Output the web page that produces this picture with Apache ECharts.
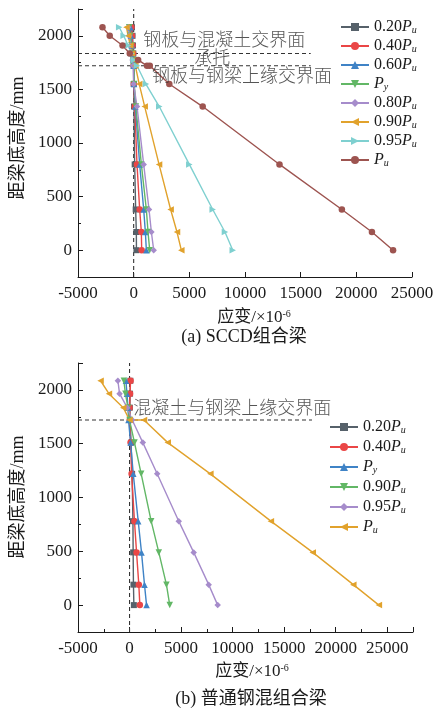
<!DOCTYPE html>
<html>
<head>
<meta charset="utf-8">
<script src="https://cdn.jsdelivr.net/npm/echarts@6/dist/echarts.min.js"></script>
<style>
html, body { margin: 0; padding: 0; background: #ffffff; }
#chart { width: 441px; height: 708px; }
</style>
</head>
<body>
<div id="chart"></div>
<script>
// ---- (a) SCCD composite beam: strain (×10^-6) at each gauge height (mm) ----
const topHeights   = [0, 170, 380, 800, 1340, 1550, 1720, 1775, 1835, 1910, 2000, 2080];
const topHeightsPu = [0, 170, 380, 800, 1340, 1550, 1720, 1720, 1775, 1835, 1910, 2000, 2080];
const topStrain020 = [250, 240, 180, 90, 30, 0, 0, -10, -30, -60, -100, -150];
const topStrain040 = [720, 690, 540, 300, 100, 20, 0, -20, -50, -100, -150, -200];
const topStrain060 = [1140, 1050, 900, 540, 150, 30, 0, -30, -80, -150, -250, -300];
const topStrainPy  = [1440, 1290, 1140, 690, 200, 50, 0, -50, -100, -200, -300, -400];
const topStrain080 = [1800, 1590, 1380, 900, 300, 0, -50, -100, -200, -300, -400, -500];
const topStrain090 = [4280, 3890, 3320, 2280, 990, 500, 150, 0, -150, -300, -500, -650];
const topStrain095 = [8900, 8200, 7100, 5000, 2300, 1100, 300, 0, -200, -500, -900, -1300];
const topStrainPu  = [23300, 21400, 18700, 13100, 6200, 3200, 1450, 1200, 400, -350, -1000, -2150, -2800];
const topInterfaces = [1835, 1720];   // 钢板与混凝土交界面, 钢板与钢梁上缘交界面
const topDashEnd = 15900;

// ---- (b) ordinary steel-concrete composite beam ----
const botHeights   = [0, 190, 490, 780, 1220, 1510, 1720, 1835, 1965, 2085];
const botHeightsPu = [0, 190, 490, 780, 1220, 1510, 1720, 1720, 1835, 1965, 2085];
const botStrain020 = [420, 380, 350, 330, 250, 150, 50, 30, 50, 80];
const botStrain040 = [1000, 900, 680, 480, 200, 100, 20, 0, 50, 100];
const botStrainPy  = [1650, 1450, 1160, 840, 360, 100, -100, -150, -250, -350];
const botStrain090 = [3900, 3580, 2840, 2100, 1130, 480, 0, -150, -400, -550];
const botStrain095 = [8550, 7680, 6225, 4775, 2680, 1290, 260, -220, -970, -1130];
const botStrainPu  = [24190, 21710, 17775, 13710, 7840, 3710, 1400, 0, -610, -2000, -2810];
const botInterface = 1720;            // 混凝土与钢梁上缘交界面
const botDashEnd = 17700;

const yRange = [-250, 2250];
const topXRange = [-5000, 25000];
const botXRange = [-5000, 27500];

const FONT = '"Liberation Serif", "Noto Sans CJK SC", serif';
const INK = '#1a1a1a';

const pairs = (xs, hs) => xs.map((v, i) => [v, hs[i]]);

// legend labels with italic P and subscript
const legendText = {
  '0.20Pu': '0.20{p|P}{s|u}', '0.40Pu': '0.40{p|P}{s|u}', '0.60Pu': '0.60{p|P}{s|u}',
  'Py': '{p|P}{s|y}', '0.80Pu': '0.80{p|P}{s|u}', '0.90Pu': '0.90{p|P}{s|u}',
  '0.95Pu': '0.95{p|P}{s|u}', 'Pu': '{p|P}{s|u}',
  '0.20Pu(b)': '0.20{p|P}{s|u}', '0.40Pu(b)': '0.40{p|P}{s|u}', 'Py(b)': '{p|P}{s|y}',
  '0.90Pu(b)': '0.90{p|P}{s|u}', '0.95Pu(b)': '0.95{p|P}{s|u}', 'Pu(b)': '{p|P}{s|u}'
};

const C = {
  gray: '#56616a', red: '#ea4646', blue: '#3f83c6', green: '#62b766',
  purple: '#a68ccb', orange: '#e1a22c', cyan: '#7fd0d0', brown: '#9d5450'
};

function dataSeries(name, gi, color, symbol, rotate, data) {
  return {
    name: name, type: 'line', xAxisIndex: gi, yAxisIndex: gi,
    data: data, color: color,
    symbol: symbol, symbolRotate: rotate, symbolSize: symbol === 'rect' ? 6 : 6.5,
    lineStyle: { width: 1.4, color: color },
    itemStyle: { color: color },
    z: 3
  };
}

function dashLine(gi, data) {
  return {
    type: 'line', xAxisIndex: gi, yAxisIndex: gi, data: data,
    showSymbol: false, symbol: 'none', silent: true, z: 2,
    lineStyle: { color: '#333', width: 1.1, type: [4, 3] }
  };
}

function note(gi, x, h, text, align) {
  return {
    type: 'scatter', xAxisIndex: gi, yAxisIndex: gi, silent: true, z: 4,
    data: [[x, h]], symbolSize: 1, itemStyle: { color: 'rgba(0,0,0,0)' },
    label: {
      show: true, position: [0, 0], align: align, verticalAlign: 'middle',
      formatter: text, color: '#2a2a2a', fontSize: 18, fontWeight: 300, fontFamily: FONT
    }
  };
}

function xAxisCfg(gi, range, minor) {
  return {
    type: 'value', gridIndex: gi, min: range[0], max: range[1], interval: 5000,
    axisLine: { show: true, onZero: false, lineStyle: { color: INK, width: 1 } },
    axisTick: { show: true, inside: true, length: 5, lineStyle: { color: INK } },
    minorTick: { show: minor, splitNumber: 2, length: 3, lineStyle: { color: INK } },
    splitLine: { show: false },
    axisLabel: {
      color: INK, fontSize: 17, fontFamily: FONT, margin: 8,
      formatter: v => (v % 5000 === 0 ? String(v) : '')
    }
  };
}

function yAxisCfg(gi) {
  return {
    type: 'value', gridIndex: gi, min: yRange[0], max: yRange[1], splitNumber: 5,
    axisLine: { show: true, onZero: false, lineStyle: { color: INK, width: 1 } },
    axisTick: { show: true, inside: true, length: 5, lineStyle: { color: INK } },
    minorTick: { show: true, splitNumber: 2, length: 3, lineStyle: { color: INK } },
    splitLine: { show: false },
    axisLabel: {
      color: INK, fontSize: 17, fontFamily: FONT, margin: 6,
      formatter: v => (v % 500 === 0 ? String(v) : '')
    }
  };
}

const legendRich = {
  p: { fontStyle: 'italic', fontSize: 16, fontFamily: FONT, color: INK, lineHeight: 16 },
  s: { fontStyle: 'italic', fontSize: 10, fontFamily: FONT, color: INK, lineHeight: 10, verticalAlign: 'bottom' }
};

function legendCfg(names, left, top, gap) {
  return {
    data: names, orient: 'vertical', left: left, top: top, padding: 0,
    itemWidth: 28, itemHeight: 10, itemGap: gap, selectedMode: false,
    formatter: n => legendText[n],
    textStyle: { fontSize: 16, fontFamily: FONT, color: INK, lineHeight: 16, rich: legendRich }
  };
}

const topNames = ['0.20Pu', '0.40Pu', '0.60Pu', 'Py', '0.80Pu', '0.90Pu', '0.95Pu', 'Pu'];
const botNames = ['0.20Pu(b)', '0.40Pu(b)', 'Py(b)', '0.90Pu(b)', '0.95Pu(b)', 'Pu(b)'];

const axisNameRich = { s: { fontSize: 10, fontFamily: FONT, color: INK, verticalAlign: 'top', lineHeight: 10 } };

const option = {
  animation: false,
  backgroundColor: '#ffffff',
  grid: [
    { left: 78, right: 29, top: 9, height: 268 },
    { left: 78, right: 28, top: 363, height: 269 }
  ],
  xAxis: [xAxisCfg(0, topXRange, false), xAxisCfg(1, botXRange, true)],
  yAxis: [yAxisCfg(0), yAxisCfg(1)],
  legend: [legendCfg(topNames, 340, 19, 3), legendCfg(botNames, 329, 419, 4)],
  graphic: [
    { type: 'text', x: 18, y: 138, rotation: Math.PI / 2,
      style: { text: '距梁底高度/mm', font: '18px ' + FONT, fill: INK, align: 'center', verticalAlign: 'middle' } },
    { type: 'text', x: 18, y: 497, rotation: Math.PI / 2,
      style: { text: '距梁底高度/mm', font: '18px ' + FONT, fill: INK, align: 'center', verticalAlign: 'middle' } },
    { type: 'text', x: 254, y: 318,
      style: { text: '应变/×10{s|-6}', rich: axisNameRich, font: '17px ' + FONT, fill: INK, align: 'center', verticalAlign: 'middle' } },
    { type: 'text', x: 244, y: 337,
      style: { text: '(a) SCCD组合梁', font: '18px ' + FONT, fill: INK, align: 'center', verticalAlign: 'middle' } },
    { type: 'text', x: 252, y: 672,
      style: { text: '应变/×10{s|-6}', rich: axisNameRich, font: '17px ' + FONT, fill: INK, align: 'center', verticalAlign: 'middle' } },
    { type: 'text', x: 251, y: 699,
      style: { text: '(b) 普通钢混组合梁', font: '18px ' + FONT, fill: INK, align: 'center', verticalAlign: 'middle' } }
  ],
  series: [
    // reference lines, chart (a)
    dashLine(0, [[0, yRange[0]], [0, yRange[1]]]),
    dashLine(0, [[topXRange[0], topInterfaces[0]], [topDashEnd, topInterfaces[0]]]),
    dashLine(0, [[topXRange[0], topInterfaces[1]], [topDashEnd, topInterfaces[1]]]),
    note(0, 900, 1940, '钢板与混凝土交界面', 'left'),
    note(0, 7100, 1773, '承托', 'center'),
    note(0, 1700, 1606, '钢板与钢梁上缘交界面', 'left'),
    // strain profiles, chart (a)
    dataSeries('0.20Pu', 0, C.gray, 'rect', 0, pairs(topStrain020, topHeights)),
    dataSeries('0.40Pu', 0, C.red, 'circle', 0, pairs(topStrain040, topHeights)),
    dataSeries('0.60Pu', 0, C.blue, 'triangle', 0, pairs(topStrain060, topHeights)),
    dataSeries('Py', 0, C.green, 'triangle', 180, pairs(topStrainPy, topHeights)),
    dataSeries('0.80Pu', 0, C.purple, 'diamond', 0, pairs(topStrain080, topHeights)),
    dataSeries('0.90Pu', 0, C.orange, 'triangle', 90, pairs(topStrain090, topHeights)),
    dataSeries('0.95Pu', 0, C.cyan, 'triangle', -90, pairs(topStrain095, topHeights)),
    dataSeries('Pu', 0, C.brown, 'circle', 0, pairs(topStrainPu, topHeightsPu)),
    // reference lines, chart (b)
    dashLine(1, [[0, yRange[0]], [0, yRange[1]]]),
    dashLine(1, [[botXRange[0], botInterface], [botDashEnd, botInterface]]),
    note(1, 400, 1815, '混凝土与钢梁上缘交界面', 'left'),
    // strain profiles, chart (b)
    dataSeries('0.20Pu(b)', 1, C.gray, 'rect', 0, pairs(botStrain020, botHeights)),
    dataSeries('0.40Pu(b)', 1, C.red, 'circle', 0, pairs(botStrain040, botHeights)),
    dataSeries('Py(b)', 1, C.blue, 'triangle', 0, pairs(botStrainPy, botHeights)),
    dataSeries('0.90Pu(b)', 1, C.green, 'triangle', 180, pairs(botStrain090, botHeights)),
    dataSeries('0.95Pu(b)', 1, C.purple, 'diamond', 0, pairs(botStrain095, botHeights)),
    dataSeries('Pu(b)', 1, C.orange, 'triangle', 90, pairs(botStrainPu, botHeightsPu))
  ]
};

const chart = echarts.init(document.getElementById('chart'), null, { renderer: 'canvas' });
chart.setOption(option);
</script>
</body>
</html>
